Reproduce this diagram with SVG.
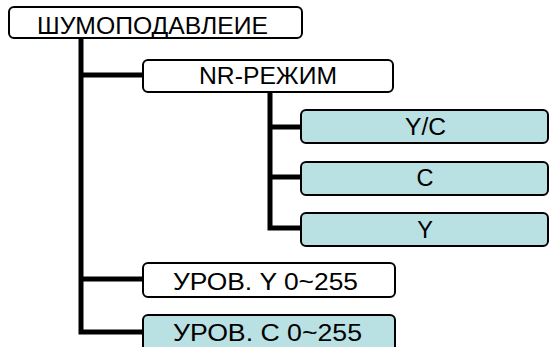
<svg xmlns="http://www.w3.org/2000/svg" width="550" height="347" viewBox="0 0 550 347">
<style>
.box{fill:#ffffff;stroke:#000;stroke-width:2}
.blue{fill:#b9e0e3;stroke:#000;stroke-width:2}
.t{font-family:"Liberation Sans",Arial,sans-serif;font-size:23.5px;fill:#000;text-anchor:middle}
.c{stroke:#000;stroke-width:5;fill:none}
</style>
<rect width="550" height="347" fill="#fff"/>
<g id="connectors">
<path class="c" d="M81 38V334.5M81 75H143M81 279H143M81 332H143"/>
<path class="c" d="M270 92V230.5M270 127H301M270 177H301M270 228H301"/>
</g>
<g id="n-root"><rect class="box" x="9" y="7" width="293" height="31" rx="5"/><text class="t" x="152.5" y="33.5" textLength="231" lengthAdjust="spacingAndGlyphs">ШУМОПОДАВЛЕИЕ</text></g>
<g id="n-nr"><rect class="box" x="143" y="60" width="250" height="32" rx="5"/><text class="t" x="268" y="83.5" textLength="138" lengthAdjust="spacingAndGlyphs">NR-РЕЖИМ</text></g>
<g id="n-yc"><rect class="blue" x="301" y="110" width="247" height="33" rx="5"/><text class="t" x="425.5" y="134.5" textLength="41" lengthAdjust="spacingAndGlyphs">Y/C</text></g>
<g id="n-c"><rect class="blue" x="301" y="162" width="247" height="33" rx="5"/><text class="t" x="425" y="186">C</text></g>
<g id="n-y"><rect class="blue" x="301" y="213" width="247" height="33" rx="5"/><text class="t" x="425" y="237.5">Y</text></g>
<g id="n-levy"><rect class="box" x="143" y="263" width="252" height="34" rx="5"/><text class="t" x="265.5" y="289.5" textLength="185" lengthAdjust="spacingAndGlyphs">УРОВ. Y 0~255</text></g>
<g id="n-levc"><rect class="blue" x="143" y="315" width="252" height="40" rx="5"/><text class="t" x="267.5" y="340.5" textLength="189" lengthAdjust="spacingAndGlyphs">УРОВ. C 0~255</text></g>
</svg>
